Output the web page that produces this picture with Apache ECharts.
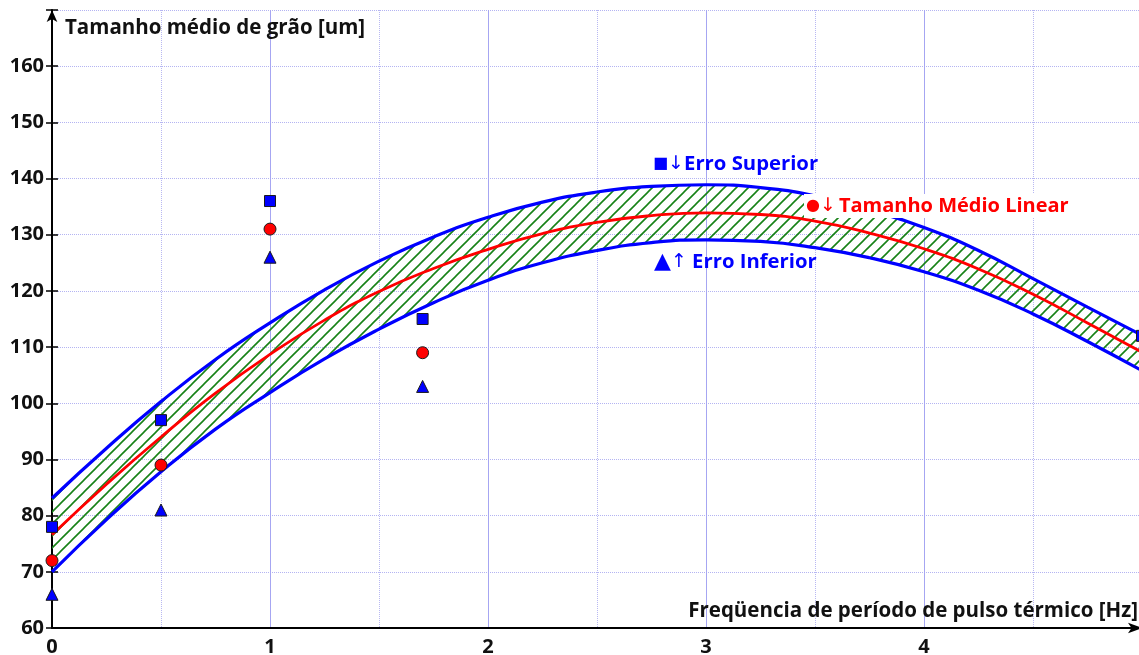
<!DOCTYPE html>
<html>
<head>
<meta charset="utf-8">
<script src="https://cdn.jsdelivr.net/npm/echarts@6/dist/echarts.min.js"></script>
<style>
html, body { margin: 0; background: #fff; }
#chart { width: 1139px; height: 655px; }
</style>
</head>
<body>
<div id="chart"></div>
<script>
// curvas (passo de 0.25 Hz)
var freq = [0, 0.25, 0.5, 0.75, 1, 1.25, 1.5, 1.75, 2, 2.25, 2.5, 2.75, 3, 3.25, 3.5, 3.75, 4, 4.25, 4.5, 4.75, 5];
var erroSuperior = [83.1, 92.0, 100.3, 107.8, 114.3, 120.2, 125.3, 129.6, 133.1, 135.8, 137.6, 138.6, 138.9, 138.4, 136.9, 134.4, 131.3, 127.2, 122.2, 117.1, 112.1];
var tamanhoMedio = [76.6, 85.6, 94.0, 101.8, 108.7, 114.8, 119.9, 124.0, 127.4, 130.2, 132.2, 133.4, 133.9, 133.6, 132.4, 130.3, 127.5, 123.9, 119.4, 114.3, 109.1];
var erroInferior = [70.0, 79.3, 87.8, 95.4, 101.9, 107.9, 113.2, 117.9, 121.9, 125.0, 127.2, 128.6, 129.1, 128.8, 127.7, 125.9, 123.4, 120.1, 115.9, 111.0, 105.8];

// pontos medidos
var ptSupX = [0, 0.5, 1, 1.7, 5];
var ptSup = [78, 97, 136, 115, 112];
var ptMedX = [0, 0.5, 1, 1.7];
var ptMed = [72, 89, 131, 109];
var ptInfX = [0, 0.5, 1, 1.7];
var ptInf = [66, 81, 126, 103];

var yTicks = [60, 70, 80, 90, 100, 110, 120, 130, 140, 150, 160];
var xTicks = [0, 1, 2, 3, 4];

function pairs(xs, ys) {
	return xs.map(function (x, i) { return [x, ys[i]]; });
}

// hachura verde diagonal
function hatch() {
	var c = document.createElement('canvas');
	c.width = 12;
	c.height = 12;
	var g = c.getContext('2d');
	g.strokeStyle = '#178217';
	g.lineWidth = 1.6;
	g.beginPath();
	g.moveTo(0, 12); g.lineTo(12, 0);
	g.moveTo(-2, 2); g.lineTo(2, -2);
	g.moveTo(10, 14); g.lineTo(14, 10);
	g.stroke();
	return c;
}

var font = '"Open Sans", sans-serif';
var symFont = '"DejaVu Sans"';
var chart = echarts.init(document.getElementById('chart'));

chart.setOption({
	animation: false,
	grid: { left: 52, right: -3, top: 10, bottom: 27, outerBoundsMode: 'none' },
	xAxis: {
		type: 'value',
		min: 0,
		max: 5,
		interval: 1,
		name: 'Freqüencia de período de pulso térmico [Hz]',
		nameLocation: 'end',
		nameGap: -4,
		nameTextStyle: {
			color: '#111', fontFamily: font, fontWeight: 'bold', fontSize: 20.5,
			align: 'right', verticalAlign: 'bottom', padding: [0, 0, 6, 0]
		},
		axisLine: {
			lineStyle: { color: '#000', width: 2 },
			symbol: ['none', 'arrow'], symbolSize: [8, 14]
		},
		axisTick: { show: false },
		axisLabel: {
			color: '#111', fontFamily: font, fontWeight: 'bold', fontSize: 20, margin: 9,
			formatter: function (v) { return xTicks.indexOf(v) >= 0 ? String(v) : ''; }
		},
		splitLine: { show: true, lineStyle: { color: '#a6a6f2', width: 1 } },
		minorTick: { show: false, splitNumber: 2 },
		minorSplitLine: { show: true, lineStyle: { color: '#b8b8f2', type: 'dotted', width: 1 } }
	},
	yAxis: [{
		type: 'value',
		min: 60,
		max: 170,
		interval: 10,
		name: 'Tamanho médio de grão [um]',
		nameLocation: 'end',
		nameGap: -2,
		nameTextStyle: {
			color: '#111', fontFamily: font, fontWeight: 'bold', fontSize: 20.5,
			align: 'left', verticalAlign: 'top', padding: [6, 0, 0, 13]
		},
		axisLine: {
			show: true,
			lineStyle: { color: '#000', width: 2 },
			symbol: ['none', 'arrow'], symbolSize: [8, 12]
		},
		axisTick: { show: true, length: 6, lineStyle: { color: '#000', width: 1.5 } },
		axisLabel: {
			color: '#111', fontFamily: font, fontWeight: 'bold', fontSize: 20, margin: 8,
			formatter: function (v) { return yTicks.indexOf(v) >= 0 ? String(v) : ''; }
		},
		splitLine: { show: true, lineStyle: { color: '#b4b4f2', type: 'dotted', width: 1 } }
	}, {
		// segunda escala só para os tiques que cruzam o eixo
		type: 'value',
		position: 'left',
		min: 60,
		max: 170,
		interval: 10,
		axisLine: { show: false },
		axisTick: { show: true, inside: true, length: 6, lineStyle: { color: '#000', width: 1.5 } },
		axisLabel: { show: false },
		splitLine: { show: false }
	}],
	series: [
		// faixa hachurada: base + (superior - inferior) empilhados no eixo y
		{
			name: 'base',
			type: 'line',
			stack: 'faixa',
			smooth: true,
			symbol: 'none',
			lineStyle: { width: 0 },
			encode: { x: 1, y: 0 },
			data: freq.map(function (x, i) { return [erroInferior[i], x]; }),
			z: 1
		},
		{
			name: 'faixa',
			type: 'line',
			stack: 'faixa',
			smooth: true,
			symbol: 'none',
			lineStyle: { width: 0 },
			areaStyle: { color: { image: hatch(), repeat: 'repeat' }, opacity: 1 },
			encode: { x: 1, y: 0 },
			data: freq.map(function (x, i) { return [erroSuperior[i] - erroInferior[i], x]; }),
			z: 1
		},
		{
			name: 'Erro Superior',
			type: 'line',
			smooth: true,
			symbol: 'none',
			lineStyle: { color: '#0000ff', width: 3.2 },
			data: pairs(freq, erroSuperior),
			z: 2
		},
		{
			name: 'Erro Inferior',
			type: 'line',
			smooth: true,
			symbol: 'none',
			lineStyle: { color: '#0000ff', width: 3.2 },
			data: pairs(freq, erroInferior),
			z: 2
		},
		{
			name: 'Tamanho Médio Linear',
			type: 'line',
			smooth: true,
			symbol: 'none',
			lineStyle: { color: '#ff0000', width: 2.8 },
			data: pairs(freq, tamanhoMedio),
			z: 3
		},
		{
			type: 'scatter',
			symbol: 'rect',
			symbolSize: 11,
			itemStyle: { color: '#0000ff', borderColor: '#1a1a1a', borderWidth: 1, opacity: 1 },
			data: pairs(ptSupX, ptSup),
			z: 4
		},
		{
			type: 'scatter',
			symbol: 'circle',
			symbolSize: 12,
			itemStyle: { color: '#ff0000', borderColor: '#1a1a1a', borderWidth: 1, opacity: 1 },
			data: pairs(ptMedX, ptMed),
			z: 4
		},
		{
			type: 'scatter',
			symbol: 'triangle',
			symbolSize: 12,
			itemStyle: { color: '#0000ff', borderColor: '#1a1a1a', borderWidth: 1, opacity: 1 },
			data: pairs(ptInfX, ptInf),
			z: 4
		}
	],
	graphic: [
		{
			type: 'text', left: 653, top: 154, z: 10,
			style: {
				text: '{s|■}{a|↓}Erro Superior',
				fill: '#0000ff', font: 'bold 20.3px ' + font,
				rich: {
					s: { fontSize: 16, fontFamily: symFont, fill: '#0000ff' },
					a: { fontSize: 19, fontFamily: symFont, fontWeight: 'normal', fill: '#0000ff', padding: [0, 0, 0, 0] }
				}
			}
		},
		{
			type: 'text', left: 804, top: 194, z: 10,
			style: {
				text: '{s|●}{a|↓}Tamanho Médio Linear',
				fill: '#ff0000', font: 'bold 20px ' + font,
				backgroundColor: '#fff', padding: [2, 4, 2, 2],
				rich: {
					s: { fontSize: 16, fontFamily: symFont, fill: '#ff0000' },
					a: { fontSize: 19, fontFamily: symFont, fontWeight: 'normal', fill: '#ff0000', padding: [0, 3, 0, 0] }
				}
			}
		},
		{
			type: 'text', left: 654, top: 251, z: 10,
			style: {
				text: '{s|▲}{a|↑} Erro Inferior',
				fill: '#0000ff', font: 'bold 20.3px ' + font,
				rich: {
					s: { fontSize: 22, fontFamily: symFont, fill: '#0000ff' },
					a: { fontSize: 19, fontFamily: symFont, fontWeight: 'normal', fill: '#0000ff' }
				}
			}
		}
	]
});
</script>
</body>
</html>
